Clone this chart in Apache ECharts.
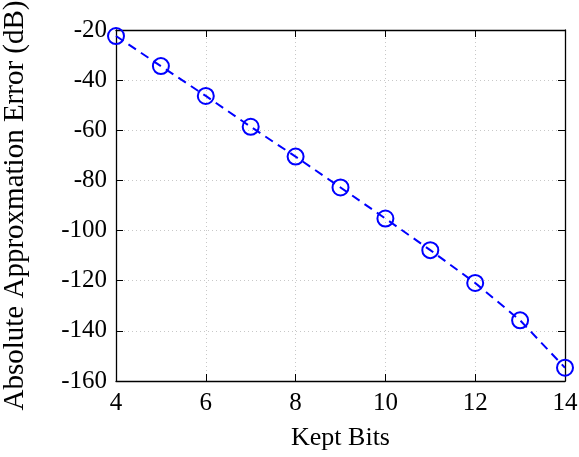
<!DOCTYPE html>
<html><head><meta charset="utf-8">
<script src="https://cdn.jsdelivr.net/npm/echarts@6/dist/echarts.min.js"></script>
<style>html,body{margin:0;padding:0;background:#fff}#c{width:579px;height:457px}</style>
</head><body><div id="c"></div>
<script>
const keptBits = [4, 5, 6, 7, 8, 9, 10, 11, 12, 13, 14];
const errorDb = [-22.4, -34.4, -46.3, -58.6, -70.5, -82.8, -95.2, -107.8, -120.9, -135.8, -154.7];
const xLabel = 'Kept Bits';
const yLabel = 'Absolute Approxmation Error (dB)';

const font = 'Liberation Serif';
const fs = 25;
const chart = echarts.init(document.getElementById('c'));
const tick = {show: true, inside: true, length: 7, lineStyle: {color: '#000', width: 1}};
const grid = {show: true, lineStyle: {color: '#c8c8c8', type: [1, 3], width: 1}};
chart.setOption({
  animation: false,
  backgroundColor: '#fff',
  grid: {left: 116, top: 30, right: 14, bottom: 76, containLabel: false, outerBoundsMode: 'none'},
  xAxis: [{
    type: 'value', min: 4, max: 14, interval: 2, position: 'bottom',
    name: xLabel, nameLocation: 'middle', nameGap: 44,
    nameTextStyle: {fontFamily: font, fontSize: 26, color: '#000'},
    axisLine: {show: true, lineStyle: {color: '#000', width: 1.3}},
    axisTick: tick, splitLine: grid,
    axisLabel: {fontFamily: font, fontSize: fs, color: '#000', margin: 10}
  }, {
    type: 'value', min: 4, max: 14, interval: 2, position: 'top',
    axisLine: {show: true, lineStyle: {color: '#000', width: 1.3}},
    axisTick: tick, splitLine: {show: false}, axisLabel: {show: false}
  }],
  yAxis: [{
    type: 'value', min: -160, max: -20, interval: 20, position: 'left',
    name: yLabel, nameLocation: 'middle', nameGap: 86, nameRotate: 90,
    nameTextStyle: {fontFamily: font, fontSize: 29, color: '#000'},
    axisLine: {show: true, lineStyle: {color: '#000', width: 1.3}},
    axisTick: tick, splitLine: grid,
    axisLabel: {fontFamily: font, fontSize: fs, color: '#000', margin: 9}
  }, {
    type: 'value', min: -160, max: -20, interval: 20, position: 'right',
    axisLine: {show: true, lineStyle: {color: '#000', width: 1.3}},
    axisTick: tick, splitLine: {show: false}, axisLabel: {show: false}
  }],
  series: [{
    type: 'line',
    data: keptBits.map((x, i) => [x, errorDb[i]]),
    lineStyle: {color: '#0000ff', width: 2, type: [9, 6]},
    symbol: 'circle', symbolSize: 16,
    itemStyle: {color: 'rgba(0,0,0,0)', borderColor: '#0000ff', borderWidth: 2},
    clip: false, z: 5
  }]
});
</script></body></html>
